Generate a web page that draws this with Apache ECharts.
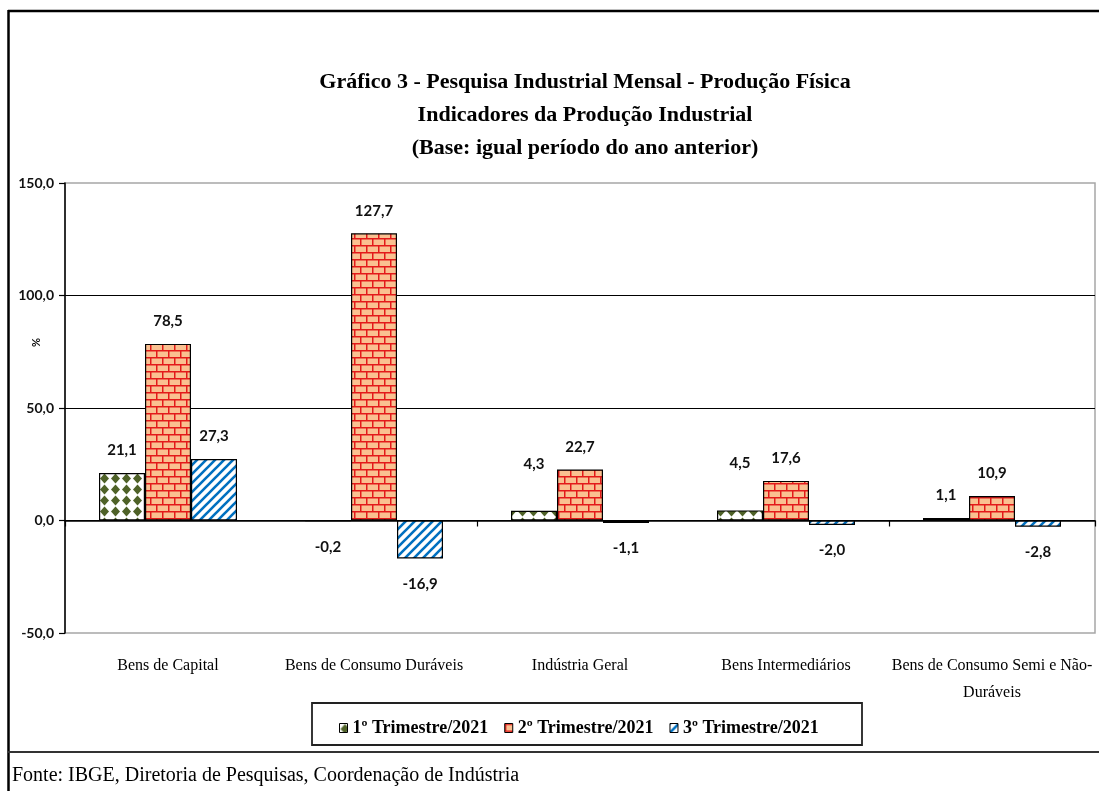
<!DOCTYPE html>
<html>
<head>
<meta charset="utf-8">
<script src="https://cdn.jsdelivr.net/npm/echarts@6/dist/echarts.min.js"></script>
<style>
  html, body { margin: 0; padding: 0; background: #fff; }
  #chart { width: 1099px; height: 791px; }
</style>
</head>
<body>
<div id="chart"></div>
<script>
  // dados
  var categories = ['Bens de Capital', 'Bens de Consumo Duráveis', 'Indústria Geral', 'Bens Intermediários', 'Bens de Consumo Semi e Não-\nDuráveis'];
  var seriesNames = ['1º Trimestre/2021', '2º Trimestre/2021', '3º Trimestre/2021'];
  var tri1 = [21.1, -0.2, 4.3, 4.5, 1.1];
  var tri2 = [78.5, 127.7, 22.7, 17.6, 10.9];
  var tri3 = [27.3, -16.9, -1.1, -2.0, -2.8];
  var yTicks = [-50, 0, 50, 100, 150];

  var titleText = 'Gráfico 3 - Pesquisa Industrial Mensal - Produção Física\nIndicadores da Produção Industrial\n(Base: igual período do ano anterior)';
  var fonteText = 'Fonte: IBGE, Diretoria de Pesquisas, Coordenação de Indústria';

  // rotulos que no original foram puxados para cima (serie, categoria -> px extra)
  var labelLift = { '0-2': 24, '0-3': 25 };

  function fmt(v) {
    return v.toFixed(1).replace('.', ',');
  }

  // padroes de preenchimento
  function diamonds() {
    var c = document.createElement('canvas');
    c.width = 11; c.height = 11;
    var ctx = c.getContext('2d');
    ctx.fillStyle = '#fff';
    ctx.fillRect(0, 0, 11, 11);
    ctx.fillStyle = '#4f6228';
    ctx.beginPath();
    ctx.moveTo(5.5, 0.5); ctx.lineTo(10, 5.5); ctx.lineTo(5.5, 10.5); ctx.lineTo(1, 5.5);
    ctx.closePath();
    ctx.fill();
    return c;
  }
  function bricks() {
    var c = document.createElement('canvas');
    c.width = 12; c.height = 14;
    var ctx = c.getContext('2d');
    ctx.fillStyle = '#fac090';
    ctx.fillRect(0, 0, 12, 14);
    ctx.strokeStyle = '#e31a1a';
    ctx.lineWidth = 1.5;
    ctx.beginPath();
    ctx.moveTo(0, 0.75); ctx.lineTo(12, 0.75);
    ctx.moveTo(0, 7.75); ctx.lineTo(12, 7.75);
    ctx.moveTo(0.75, 0); ctx.lineTo(0.75, 7);
    ctx.moveTo(6.75, 7); ctx.lineTo(6.75, 14);
    ctx.stroke();
    return c;
  }
  function stripes() {
    var c = document.createElement('canvas');
    c.width = 9; c.height = 9;
    var ctx = c.getContext('2d');
    ctx.fillStyle = '#fff';
    ctx.fillRect(0, 0, 9, 9);
    ctx.strokeStyle = '#0070c0';
    ctx.lineWidth = 2.6;
    ctx.beginPath();
    ctx.moveTo(-2, 11); ctx.lineTo(11, -2);
    ctx.moveTo(-2, 2); ctx.lineTo(2, -2);
    ctx.moveTo(7, 11); ctx.lineTo(11, 7);
    ctx.stroke();
    return c;
  }

  var fills = [diamonds(), bricks(), stripes()];
  var values = [tri1, tri2, tri3];

  function makeSeries(i) {
    return {
      name: seriesNames[i],
      type: 'bar',
      barWidth: 46,
      barGap: '0%',
      animation: false,
      itemStyle: {
        color: { image: fills[i], repeat: 'repeat' },
        borderColor: '#000',
        borderWidth: 1.2
      },
      label: {
        show: true,
        fontFamily: 'Lato',
        fontWeight: 'bold',
        fontSize: 15,
        color: '#111',
        formatter: function (p) { return fmt(p.value); }
      },
      data: values[i].map(function (v, j) {
        var lift = labelLift[i + '-' + j] || 0;
        return {
          value: v,
          label: v < 0 ? { position: 'bottom', distance: 18 } : { position: 'top', distance: 15 + lift }
        };
      })
    };
  }

  var chart = echarts.init(document.getElementById('chart'));
  chart.setOption({
    backgroundColor: '#fff',
    title: {
      text: titleText,
      left: 580,
      textAlign: 'center',
      top: 61,
      textStyle: {
        fontFamily: 'Liberation Serif',
        fontWeight: 'bold',
        fontSize: 22,
        lineHeight: 33,
        color: '#000'
      }
    },
    grid: {
      left: 65,
      right: 4,
      top: 183,
      bottom: 158,
      show: true,
      borderColor: '#a6a6a6',
      borderWidth: 1.5
    },
    legend: {
      left: 334,
      top: 714,
      itemWidth: 8,
      itemHeight: 9,
      itemGap: 16,
      icon: 'rect',
      selectedMode: false,
      itemStyle: { borderColor: '#000', borderWidth: 1 },
      textStyle: {
        fontFamily: 'Liberation Serif',
        fontWeight: 'bold',
        fontSize: 18,
        color: '#000'
      },
      data: seriesNames
    },
    xAxis: [
      {
        type: 'category',
        data: categories,
        axisLine: { onZero: true, lineStyle: { color: '#000', width: 1.5 } },
        axisTick: { show: true, length: 6, lineStyle: { color: '#000', width: 1.2 } },
        axisLabel: { show: false },
        splitLine: { show: false }
      },
      {
        type: 'category',
        position: 'bottom',
        data: categories,
        axisLine: { show: false, onZero: false },
        axisTick: { show: false },
        axisLabel: {
          interval: 0,
          margin: 19,
          fontFamily: 'Liberation Serif',
          fontSize: 16,
          lineHeight: 27,
          color: '#000'
        }
      }
    ],
    yAxis: {
      type: 'value',
      min: yTicks[0],
      max: yTicks[yTicks.length - 1],
      interval: 50,
      axisLine: { show: true, lineStyle: { color: '#000', width: 1.5 } },
      axisTick: { show: true, length: 6, lineStyle: { color: '#000', width: 1.2 } },
      axisLabel: {
        margin: 11,
        fontFamily: 'Lato',
        fontWeight: 'bold',
        fontSize: 14,
        color: '#111',
        formatter: function (v) { return fmt(v); }
      },
      splitLine: {
        show: true,
        showMinLine: false,
        showMaxLine: false,
        lineStyle: { color: '#000', width: 1.2 }
      }
    },
    series: [makeSeries(0), makeSeries(1), makeSeries(2)],
    graphic: [
      // moldura
      { type: 'line', shape: { x1: 8, y1: 11, x2: 1099, y2: 11 }, style: { stroke: '#000', lineWidth: 2.5 } },
      { type: 'line', shape: { x1: 8.5, y1: 10, x2: 8.5, y2: 791 }, style: { stroke: '#000', lineWidth: 2.5 } },
      { type: 'line', shape: { x1: 8, y1: 752, x2: 1099, y2: 752 }, style: { stroke: '#333', lineWidth: 2 } },
      // caixa da legenda
      { type: 'rect', shape: { x: 312, y: 703, width: 550, height: 42 }, style: { fill: null, stroke: '#222', lineWidth: 1.8 }, z: -1 },
      {
        type: 'text', left: 31, top: 338, rotation: Math.PI / 2,
        style: { text: '%', fontFamily: 'Lato', fontWeight: 'bold', fontSize: 11, fill: '#111' }
      },
      {
        type: 'text', left: 12, top: 766,
        style: { text: fonteText, fontFamily: 'Liberation Serif', fontSize: 20, fill: '#000' }
      }
    ]
  });
</script>
</body>
</html>
